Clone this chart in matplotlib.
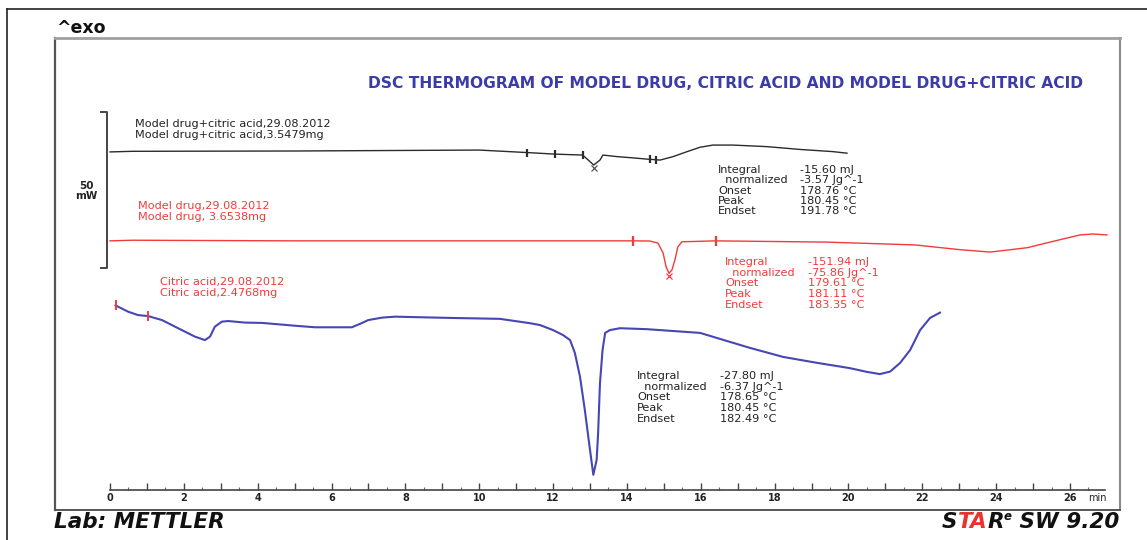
import numpy as np
import matplotlib
matplotlib.use('Agg')
import matplotlib.pyplot as plt
from matplotlib.lines import Line2D
from matplotlib.ticker import MultipleLocator, FuncFormatter

# ---------------- data (time in min, heat flow in mW, arbitrary offsets) ----------------
blend_t = [0.0, 0.6, 5.0, 10.0, 11.3, 12.05, 12.8, 13.0, 13.1, 13.27, 13.35, 13.73, 14.16,
           14.54, 14.9, 15.25, 15.63, 15.98, 16.33, 16.87, 17.79, 18.69, 19.58, 19.96]
blend_mw = [37.2, 37.4, 37.5, 37.8, 37.0, 36.5, 36.2, 34.1, 33.0, 34.6, 36.2, 35.7, 35.3,
            34.9, 34.6, 35.7, 37.3, 38.7, 39.4, 39.4, 38.9, 38.0, 37.3, 36.8]

drug_t = [0.0, 0.6, 5.0, 10.0, 14.16, 14.62, 14.84, 14.98, 15.06, 15.14, 15.22, 15.3, 15.38,
          15.49, 16.4, 19.4, 21.8, 23.0, 23.84, 24.84, 25.46, 26.27, 26.62, 27.0]
drug_mw = [8.7, 8.9, 8.7, 8.7, 8.7, 8.65, 8.0, 4.8, 0.4, -1.7, -0.6, 2.6, 6.8,
           8.4, 8.7, 8.3, 7.4, 5.9, 5.1, 6.5, 8.3, 10.6, 10.9, 10.6]

citric_t = [0.15, 0.22, 0.49, 0.76, 1.03, 1.41, 1.76, 2.03, 2.30, 2.57, 2.71, 2.84, 3.03, 3.20,
            3.66, 4.12, 5.01, 5.55, 6.55, 6.83, 6.99, 7.37, 7.72, 9.21, 10.56, 11.38, 11.65,
            12.0, 12.27, 12.46, 12.59, 12.73, 12.86, 13.0, 13.09, 13.18, 13.22, 13.27, 13.34,
            13.41, 13.54, 13.81, 14.53, 15.98, 17.33, 18.23, 19.15, 20.04, 20.5, 20.85, 21.13,
            21.4, 21.67, 21.94, 22.21, 22.48]
citric_mw = [-12.0, -12.4, -14.0, -15.1, -15.4, -16.7, -18.8, -20.4, -22.0, -23.1, -22.0, -18.8,
             -17.2, -17.0, -17.5, -17.6, -18.5, -19.0, -19.0, -17.6, -16.7, -15.9, -15.6, -16.0,
             -16.3, -17.7, -18.3, -19.9, -21.5, -23.1, -27.2, -34.9, -45.5, -58.3, -66.3, -61.5,
             -52.9, -36.9, -26.3, -20.8, -19.9, -19.3, -19.6, -20.8, -25.6, -28.5, -30.4, -32.1,
             -33.3, -34.0, -33.2, -30.4, -26.3, -19.9, -16.0, -14.3]

blend_limits_t = [11.3, 12.05, 12.8, 14.62, 14.78]
blend_peak_t = [13.1]
drug_limits_t = [14.16, 16.4]
drug_peak_t = [15.14]
citric_limits_t = [0.15, 1.03]

scale_bar_mw = 50

blend_labels = ["Model drug+citric acid,29.08.2012", "Model drug+citric acid,3.5479mg"]
drug_labels = ["Model drug,29.08.2012", "Model drug, 3.6538mg"]
citric_labels = ["Citric acid,29.08.2012", "Citric acid,2.4768mg"]

result_names = ["Integral", "  normalized", "Onset", "Peak", "Endset"]
blend_values = ["-15.60 mJ", "-3.57 Jg^-1", "178.76 °C", "180.45 °C", "191.78 °C"]
drug_values = ["-151.94 mJ", "-75.86 Jg^-1", "179.61 °C", "181.11 °C", "183.35 °C"]
citric_values = ["-27.80 mJ", "-6.37 Jg^-1", "178.65 °C", "180.45 °C", "182.49 °C"]

title = "DSC THERMOGRAM OF MODEL DRUG, CITRIC ACID AND MODEL DRUG+CITRIC ACID"

# ---------------- styling ----------------
W, H = 1147, 540
BLACK = '#2b2b2b'
RED = '#f23a3a'
BLUE = '#4646b4'
TITLE_BLUE = '#3b3bab'
SMALL = 8.1


def fx(x):
    return x / W


def fy(y):
    return 1 - y / H


fig = plt.figure(figsize=(W / 100, H / 100), dpi=100)
fig.patch.set_facecolor('white')

# outer frame (top and left)
fig.add_artist(Line2D([fx(7), 1.0], [fy(9), fy(9)], color='#222222', lw=1.2))
fig.add_artist(Line2D([fx(7), fx(7)], [fy(9), 0.0], color='#222222', lw=1.2))

# inner box
frame = fig.add_axes([fx(55), fy(510), fx(1120) - fx(55), fy(38) - fy(510)])
frame.set_xticks([])
frame.set_yticks([])
frame.patch.set_alpha(0)
frame.spines['top'].set_color('#a0a0a0')
frame.spines['top'].set_linewidth(2.0)
frame.spines['right'].set_color('#8a8a8a')
frame.spines['right'].set_linewidth(1.5)
frame.spines['left'].set_color('#555555')
frame.spines['left'].set_linewidth(1.6)
frame.spines['bottom'].set_color('#555555')
frame.spines['bottom'].set_linewidth(1.4)

# data axes
x_end = (1105 - 110) / 36.923
y_bot = (268 - 490) / 3.12
y_top = (268 - 38) / 3.12
ax = fig.add_axes([fx(110), fy(490), fx(1105) - fx(110), fy(38) - fy(490)])
ax.patch.set_alpha(0)
ax.set_xlim(0, x_end)
ax.set_ylim(y_bot, y_top)
for s in ['left', 'right', 'top']:
    ax.spines[s].set_visible(False)
ax.spines['bottom'].set_color('#444444')
ax.spines['bottom'].set_linewidth(1.2)
ax.set_yticks([])
ax.xaxis.set_major_locator(MultipleLocator(1))
ax.xaxis.set_minor_locator(MultipleLocator(0.5))
ax.xaxis.set_major_formatter(FuncFormatter(lambda v, p: f"{int(round(v))}" if int(round(v)) % 2 == 0 else ""))
ax.tick_params(axis='x', which='major', direction='in', length=5, width=1, color='#444444',
               pad=2, labelsize=7, labelcolor='#222222')
ax.tick_params(axis='x', which='minor', direction='in', length=2.5, width=0.8, color='#666666')
for lab in ax.get_xticklabels():
    lab.set_family(['Liberation Sans Narrow', 'DejaVu Sans'])
    lab.set_fontweight('bold')
fig.text(fx(1107), fy(498), "min", ha='right', va='center', fontsize=7, color='#222222')

# curves
ax.plot(blend_t, blend_mw, color=BLACK, lw=1.0, clip_on=False)
ax.plot(drug_t, drug_mw, color=RED, lw=1.0, clip_on=False)
ax.plot(citric_t, citric_mw, color=BLUE, lw=1.5, clip_on=False)

# evaluation limits and peak markers
ax.plot(blend_limits_t, np.interp(blend_limits_t, blend_t, blend_mw), ls='none', marker='|',
        ms=6, mew=1.6, color=BLACK, clip_on=False)
ax.plot(blend_peak_t, np.interp(blend_peak_t, blend_t, blend_mw) - 0.8, ls='none', marker='x',
        ms=4, mew=0.9, color='#555555', clip_on=False)
ax.plot(drug_limits_t, np.interp(drug_limits_t, drug_t, drug_mw), ls='none', marker='|',
        ms=7, mew=1.6, color=RED, clip_on=False)
ax.plot(drug_peak_t, np.interp(drug_peak_t, drug_t, drug_mw) - 0.8, ls='none', marker='x',
        ms=4, mew=0.9, color=RED, clip_on=False)
ax.plot(citric_limits_t, np.interp(citric_limits_t, citric_t, citric_mw), ls='none', marker='|',
        ms=7, mew=1.4, color=RED, clip_on=False)

# scale bar (50 mW)
sb_x = -0.08
ax.plot([sb_x - 0.16, sb_x, sb_x, sb_x - 0.16], [scale_bar_mw, scale_bar_mw, 0, 0],
        color='#444444', lw=1.4, clip_on=False)
fig.text(fx(86), fy(186), f"{scale_bar_mw}", ha='center', va='center', fontsize=7.5,
         fontweight='bold', color='#222222')
fig.text(fx(86), fy(196), "mW", ha='center', va='center', fontsize=7.5,
         fontweight='bold', color='#222222')

# texts
fig.text(fx(56), fy(28), "^exo", ha='left', va='center', fontsize=12.5, fontweight='bold',
         color='#111111')
fig.text(fx(725), fy(84), title, ha='center', va='center', fontsize=11.2, fontweight='bold',
         color=TITLE_BLUE)


def label_pair(lines, x, y, color, dy=10.8):
    for i, s in enumerate(lines):
        fig.text(fx(x), fy(y + i * dy), s, ha='left', va='center', fontsize=SMALL, color=color)


label_pair(blend_labels, 135, 124, '#222222')
label_pair(drug_labels, 138, 206, RED)
label_pair(citric_labels, 160, 282, RED, dy=11)


def result_block(values, x_lab, x_val, y0, color, dy):
    for i, (n, v) in enumerate(zip(result_names, values)):
        fig.text(fx(x_lab), fy(y0 + i * dy), n, ha='left', va='center', fontsize=SMALL,
                 color=color)
        fig.text(fx(x_val), fy(y0 + i * dy), v, ha='left', va='center', fontsize=SMALL,
                 color=color)


result_block(blend_values, 718, 800, 170, '#222222', 10.3)
result_block(drug_values, 725, 808, 262, RED, 10.75)
result_block(citric_values, 637, 720, 376, '#222222', 10.75)

# footer
FOOT = 15.5
fig.text(fx(54), fy(522), "Lab: METTLER", ha='left', va='center', fontsize=FOOT,
         fontweight='bold', style='italic', color='#111111')

fig.canvas.draw()
renderer = fig.canvas.get_renderer()
x_right = 1119
parts = [(" SW 9.20", '#111111', FOOT, 0), ("e", '#111111', 8.5, 6), ("R", '#111111', FOOT, 0),
         ("TA", '#e8332e', FOOT, 0), ("S", '#111111', FOOT, 0)]
cur = x_right
for s, c, sz, dyy in parts:
    t = fig.text(fx(cur), fy(522 - dyy), s, ha='right', va='center',
                 fontsize=sz, fontweight='bold', style='italic', color=c)
    bb = t.get_window_extent(renderer=renderer)
    cur = cur - bb.width

fig.savefig('out.png', dpi=100, facecolor='white')
